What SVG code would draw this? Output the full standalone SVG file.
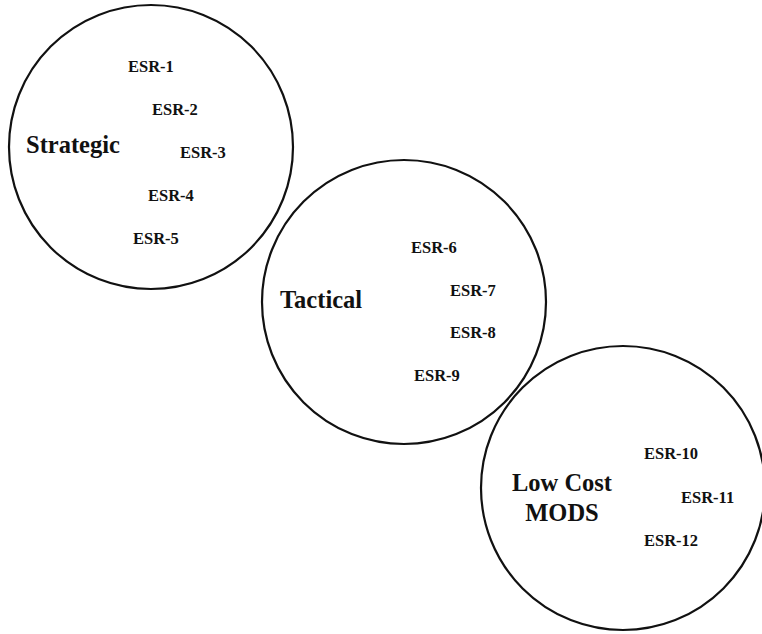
<svg xmlns="http://www.w3.org/2000/svg" width="762" height="634" viewBox="0 0 762 634">
<style>
.c{fill:none;stroke:#111;stroke-width:2.2}
.t{font-family:"Liberation Serif","Times New Roman",serif;font-weight:bold;fill:#111}
.h{font-size:24.5px}
.e{font-size:16.5px}
</style>
<rect width="762" height="634" fill="#fff"/>
<g id="strategic">
<circle class="c" cx="151" cy="147" r="142"/>
<text class="t h" x="26" y="153">Strategic</text>
<text class="t e" x="128" y="72">ESR-1</text>
<text class="t e" x="152" y="115">ESR-2</text>
<text class="t e" x="180" y="158">ESR-3</text>
<text class="t e" x="148" y="201">ESR-4</text>
<text class="t e" x="133" y="244">ESR-5</text>
</g>
<g id="tactical">
<circle class="c" cx="404" cy="302" r="142"/>
<text class="t h" x="280" y="308">Tactical</text>
<text class="t e" x="411" y="253">ESR-6</text>
<text class="t e" x="450" y="296">ESR-7</text>
<text class="t e" x="450" y="338">ESR-8</text>
<text class="t e" x="414" y="381">ESR-9</text>
</g>
<g id="lowcost">
<circle class="c" cx="623" cy="488" r="142"/>
<text class="t h" x="562" y="491" text-anchor="middle">Low Cost</text>
<text class="t h" x="562" y="521" text-anchor="middle">MODS</text>
<text class="t e" x="644" y="459">ESR-10</text>
<text class="t e" x="681" y="503">ESR-11</text>
<text class="t e" x="644" y="546">ESR-12</text>
</g>
</svg>
